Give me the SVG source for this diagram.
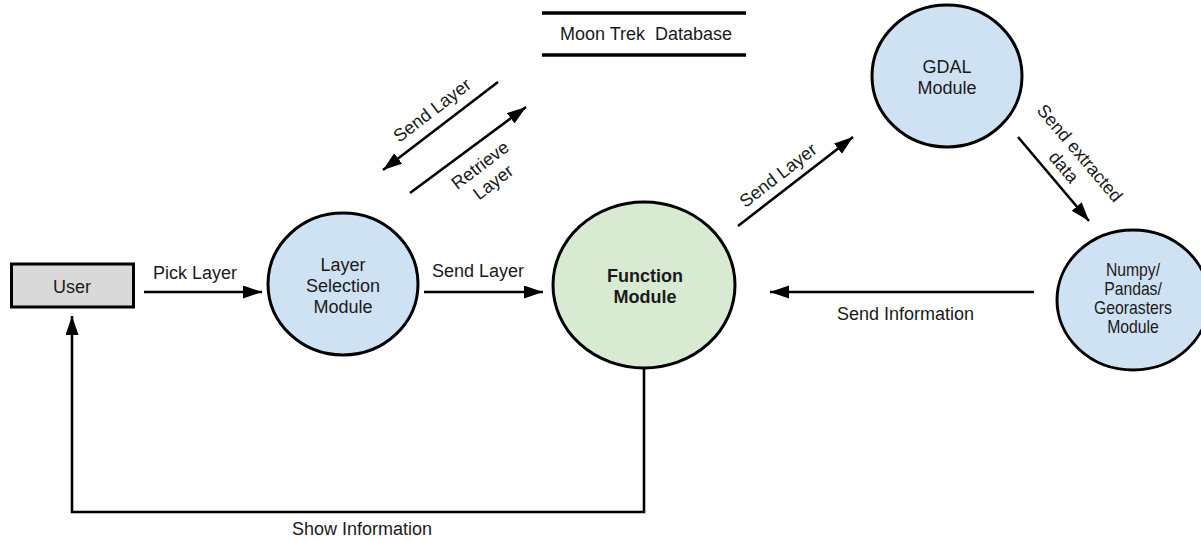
<svg xmlns="http://www.w3.org/2000/svg" width="1201" height="541" viewBox="0 0 1201 541">
  <defs>
    <marker id="head" markerUnits="userSpaceOnUse" markerWidth="20" markerHeight="14" refX="19" refY="6.5" orient="auto">
      <path d="M0,0 L19,6.5 L0,13 z" fill="#000"/>
    </marker>
    <style>
      text { font-family: "Liberation Sans", Arial, sans-serif; font-size: 18px; fill: #1a1a1a; }
      .mid { text-anchor: middle; }
      .bold { font-weight: bold; }
      .node { stroke: #000; stroke-width: 3; }
      .blue { fill: #cfe2f3; }
      .green { fill: #d9ead3; }
      .grey { fill: #d9d9d9; }
      .flow { fill: none; stroke: #000; stroke-width: 2.6; marker-end: url(#head); }
      .store { stroke: #000; stroke-width: 3.5; }
      .narrow { font-size: 17.5px; }
    </style>
  </defs>
  <rect width="1201" height="541" fill="#fff"/>

  <!-- data flows -->
  <g id="connectors">
    <line class="flow" x1="144" y1="292" x2="262" y2="292"/>
    <line class="flow" x1="424" y1="292" x2="543" y2="292"/>
    <line class="flow" x1="1034" y1="292" x2="770" y2="292"/>
    <line class="flow" x1="498" y1="82" x2="383" y2="170"/>
    <line class="flow" x1="410" y1="193" x2="526" y2="107"/>
    <line class="flow" x1="738" y1="226" x2="853" y2="137"/>
    <line class="flow" x1="1018" y1="137" x2="1089" y2="221"/>
    <polyline class="flow" points="644,368 644,512 72,512 72,316"/>

    <text x="153" y="279">Pick Layer</text>
    <text x="432" y="277">Send Layer</text>
    <text x="837" y="320">Send Information</text>
    <text class="mid" x="362" y="535">Show Information</text>
    <text class="mid" transform="translate(432,110) rotate(-37.4)" dy="0.35em">Send Layer</text>
    <text class="mid" transform="translate(480,165) rotate(-37.4)" dy="0.35em">Retrieve</text>
    <text class="mid" transform="translate(493,182) rotate(-37.4)" dy="0.35em">Layer</text>
    <text class="mid" transform="translate(778,175) rotate(-37.7)" dy="0.35em">Send Layer</text>
    <text class="mid" transform="translate(1080,153) rotate(49.8)" dy="0.35em">Send extracted</text>
    <text class="mid" transform="translate(1064,167) rotate(49.8)" dy="0.35em">data</text>
  </g>

  <g id="user">
    <rect class="node grey" x="11.5" y="264" width="122" height="43"/>
    <text class="mid" x="72" y="293">User</text>
  </g>

  <g id="layer-selection">
    <ellipse class="node blue" cx="343" cy="284" rx="75" ry="71"/>
    <text class="mid" x="343" y="271">Layer</text>
    <text class="mid" x="343" y="292">Selection</text>
    <text class="mid" x="343" y="313">Module</text>
  </g>

  <g id="function-module">
    <ellipse class="node green" cx="644" cy="285" rx="91" ry="83"/>
    <text class="mid bold" x="645" y="282">Function</text>
    <text class="mid bold" x="645" y="303">Module</text>
  </g>

  <g id="gdal">
    <ellipse class="node blue" cx="947" cy="76" rx="75" ry="71"/>
    <text class="mid" x="947" y="73">GDAL</text>
    <text class="mid" x="947" y="94">Module</text>
  </g>

  <g id="numpy">
    <ellipse class="node blue" cx="1133" cy="300" rx="76" ry="70"/>
    <!-- horizontally condensed label block -->
    <g transform="translate(1133,0) scale(0.9,1)">
      <text class="mid narrow" x="0" y="276">Numpy/</text>
      <text class="mid narrow" x="0" y="295">Pandas/</text>
      <text class="mid narrow" x="0" y="314">Georasters</text>
      <text class="mid narrow" x="0" y="333">Module</text>
    </g>
  </g>

  <g id="moon-trek-database">
    <line class="store" x1="542" y1="13" x2="746" y2="13"/>
    <line class="store" x1="542" y1="55" x2="746" y2="55"/>
    <text class="mid" x="646" y="40" style="white-space:pre">Moon Trek  Database</text>
  </g>
</svg>
